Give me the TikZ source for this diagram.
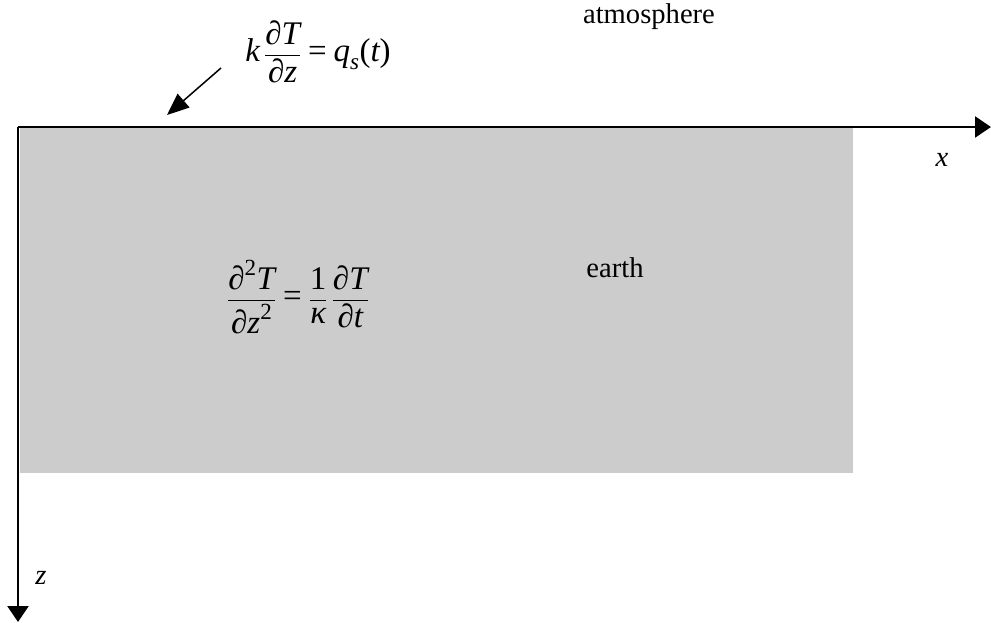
\documentclass[tikz,border=0pt]{standalone}
\usepackage{fontspec}
\setmainfont{Liberation Serif}
\usepackage{amsmath}
\usetikzlibrary{arrows.meta}
\newcommand{\iv}[1]{\text{\itshape #1}}
\newcommand{\up}[1]{\text{#1}}
\definecolor{earthgrey}{HTML}{CCCCCC}
\tikzset{
  lbl/.style={font=\fontsize{28.6}{34}\selectfont, inner sep=0pt},
  eqn/.style={font=\fontsize{33}{40}\selectfont, inner sep=0pt},
  axis/.style={line width=2.5pt, -{Triangle[length=16pt,width=21pt]}},
  flux/.style={line width=1.5pt, -{Triangle[length=22pt,width=18pt]}}
}
\begin{document}
\begin{tikzpicture}[x=1pt,y=-1pt]
\useasboundingbox (0,0) rectangle (991,623);
\fill[earthgrey] (20,127) rectangle (853,473);
\coordinate (o) at (18,127);
\coordinate (xe) at (991,127);
\coordinate (ze) at (18,622);
\draw[axis] (o) -- (xe);
\draw[axis] (o) -- (ze);
\node[lbl] (xl) at (942,160) {\itshape x};
\node[lbl] (zl) at (41,578) {\itshape z};
\node[lbl] (atm) at (649,17) {atmosphere};
\node[lbl] (earth) at (615,268) {earth};
\node[eqn] (bc) at (318,52) {$\displaystyle \iv{k}\,\frac{\iv{∂T}}{\iv{∂z}} \mathrel{\up{=}} \iv{q}_{\iv{s}}\up{(}\iv{t}\up{)}$};
\node[eqn] (pde) at (298,297) {$\displaystyle \frac{\iv{∂}^{\up{2}}\iv{T}}{\iv{∂z}^{\up{2}}} \mathrel{\up{=}} \frac{\up{1}}{\iv{κ}}\,\frac{\iv{∂T}}{\iv{∂t}}$};
\coordinate (fs) at (221,68);
\coordinate (fe) at (167,115);
\draw[flux] (fs) -- (fe);
\end{tikzpicture}
\end{document}
